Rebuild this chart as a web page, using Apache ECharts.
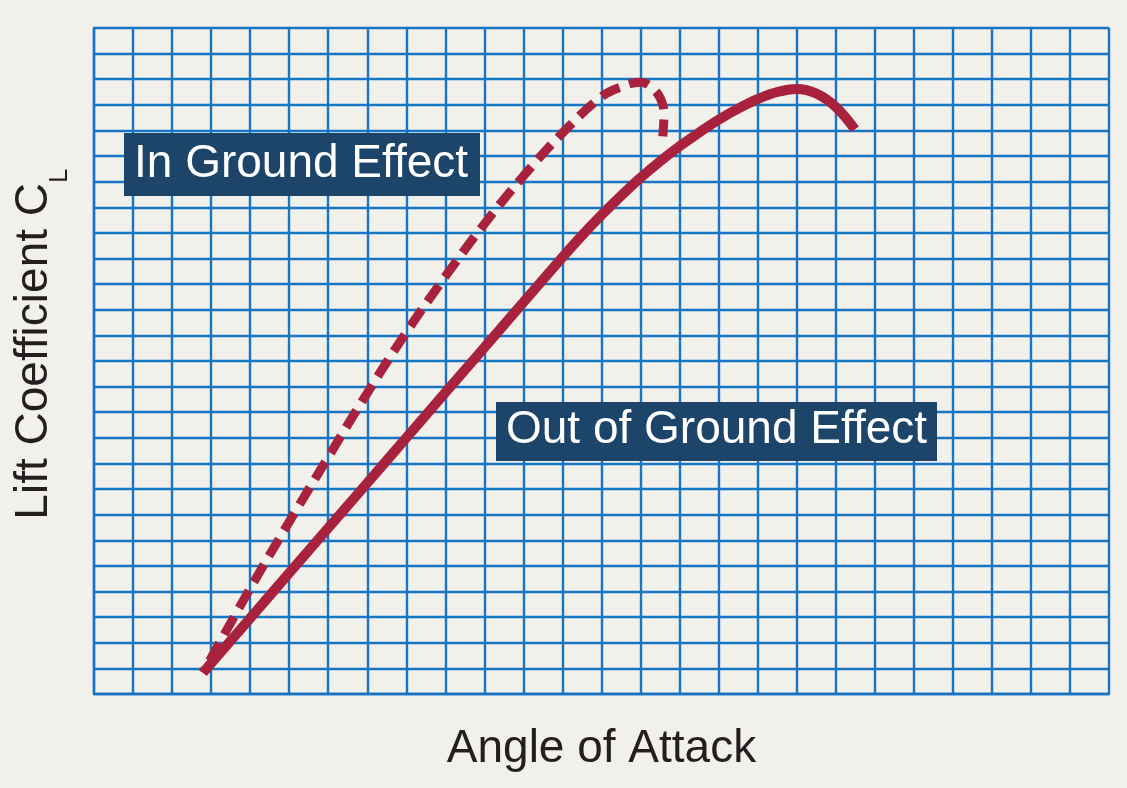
<!DOCTYPE html>
<html>
<head>
<meta charset="utf-8">
<script src="https://cdn.jsdelivr.net/npm/echarts@6/dist/echarts.min.js"></script>
<style>
html,body{margin:0;padding:0;background:#f2f0eb;}
#c{width:1127px;height:788px;}
</style>
</head>
<body>
<div id="c"></div>
<script>
// Grid: 26 x 26 cells (unitless angle of attack vs lift coefficient)
const gridCellsX = 26;
const gridCellsY = 26;

// Out of ground effect (solid curve)
const outX = [2.79, 4, 5, 6, 7, 8, 9, 10, 11, 12, 12.5, 13, 13.5, 14, 14.5, 15, 15.5, 16, 16.5, 17, 17.5, 18, 18.5, 19, 19.49];
const outY = [0.83, 2.96, 4.72, 6.48, 8.24, 10.00, 11.77, 13.53, 15.29, 17.05, 17.90, 18.70, 19.45, 20.15, 20.79, 21.38, 21.92, 22.42, 22.85, 23.22, 23.50, 23.62, 23.44, 22.92, 22.04];

// In ground effect (dashed curve)
const inX = [2.79, 4, 5, 6, 7, 8, 9, 10, 11, 12, 13, 13.5, 14, 14.29, 14.52, 14.60, 14.57];
const inY = [0.83, 4.12, 6.72, 9.25, 11.75, 14.12, 16.30, 18.35, 20.22, 21.90, 23.32, 23.70, 23.88, 23.68, 23.21, 22.63, 21.77];

const labelIn = 'In Ground Effect';
const labelOut = 'Out of Ground Effect';
const xTitle = 'Angle of Attack';
const yTitle = 'Lift Coefficient C';
const ySub = 'L';

const zip = (a, b) => a.map((v, i) => [v, b[i]]);

const blue = '#1776c4';
const red = '#a8223d';
const navy = '#1d4469';
const font = '"Liberation Sans", Arial, Helvetica, sans-serif';

const chart = echarts.init(document.getElementById('c'));
chart.setOption({
  backgroundColor: '#f2f0eb',
  animation: false,
  grid: { left: 94, right: 18, top: 28, bottom: 94 },
  xAxis: {
    type: 'value', min: 0, max: gridCellsX, interval: 1,
    axisLabel: { show: false }, axisTick: { show: false },
    axisLine: { show: true, lineStyle: { color: blue, width: 2.4 } },
    splitLine: { show: true, lineStyle: { color: blue, width: 2.4 } },
    name: xTitle, nameLocation: 'middle', nameGap: 32,
    nameTextStyle: { fontSize: 46, color: '#231f20', fontFamily: font }
  },
  yAxis: {
    type: 'value', min: 0, max: gridCellsY, interval: 1,
    axisLabel: { show: false }, axisTick: { show: false },
    axisLine: { show: true, lineStyle: { color: blue, width: 2.4 } },
    splitLine: { show: true, lineStyle: { color: blue, width: 2.4 } }
  },
  series: [
    {
      name: labelOut, type: 'line', data: zip(outX, outY),
      smooth: 0.4, symbol: 'none', z: 5,
      lineStyle: { color: red, width: 10 }
    },
    {
      name: labelIn, type: 'line', data: zip(inX, inY),
      smooth: 0.4, symbol: 'none', z: 5,
      lineStyle: { color: red, width: 9, type: [20, 10], dashOffset: 16 }
    }
  ],
  graphic: [
    { type: 'rect', shape: { x: 124, y: 133, width: 356, height: 63 }, style: { fill: navy }, z: 10 },
    { type: 'text', x: 134, y: 164, z: 11,
      style: { text: labelIn, fill: '#ffffff', font: '46px ' + font, textAlign: 'left', textVerticalAlign: 'middle' } },
    { type: 'rect', shape: { x: 496, y: 402, width: 441, height: 59 }, style: { fill: navy }, z: 10 },
    { type: 'text', x: 506, y: 430, z: 11,
      style: { text: labelOut, fill: '#ffffff', font: '46px ' + font, textAlign: 'left', textVerticalAlign: 'middle' } },
    { type: 'text', x: 34, y: 183, rotation: Math.PI / 2, z: 11,
      style: { text: yTitle, fill: '#231f20', font: '46px ' + font, textAlign: 'right', textVerticalAlign: 'middle' } },
    { type: 'text', x: 60, y: 183, rotation: Math.PI / 2, z: 11,
      style: { text: ySub, fill: '#231f20', font: '26px ' + font, textAlign: 'left', textVerticalAlign: 'middle' } }
  ]
});
</script>
</body>
</html>
